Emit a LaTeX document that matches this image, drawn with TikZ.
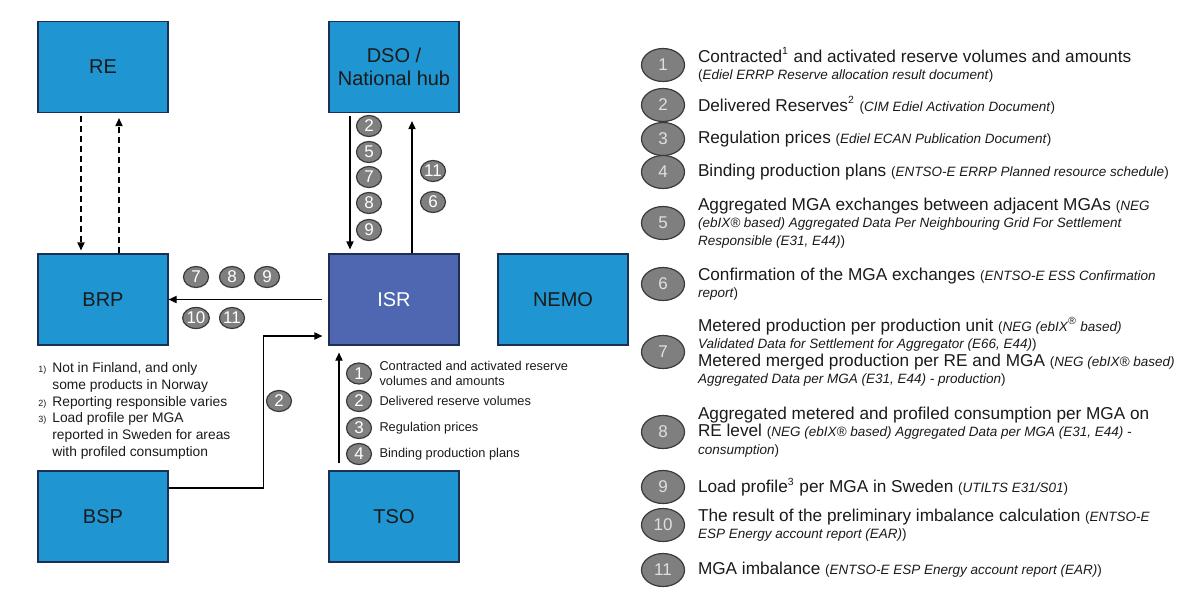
\documentclass[tikz,border=0pt]{standalone}
\usepackage{fontspec}
\setmainfont{Liberation Sans}
\usetikzlibrary{arrows.meta}
\usetikzlibrary{positioning}
\usetikzlibrary{shapes.geometric}
\usepackage{xcolor}

\definecolor{boxblue}{HTML}{1F96D2}
\definecolor{isrblue}{HTML}{4F66B0}
\definecolor{boxline}{HTML}{1C2F55}
\definecolor{numgray}{HTML}{7F7F7F}
\definecolor{numline}{HTML}{3A3A3A}
\definecolor{txt}{HTML}{1A1A1A}

\newcommand{\dsm}{\fontsize{6.75}{8.75}\selectfont}
\newcommand{\sups}[1]{\textsuperscript{\fontsize{5.2}{5.2}\selectfont #1}}

\begin{document}
\begin{tikzpicture}[x=0.5pt, y=-0.5pt,
  box/.style={draw=boxline, line width=0.6pt, fill=boxblue, minimum width=65pt, minimum height=45.5pt,
    inner sep=0pt, align=center, text=txt, font=\fontsize{10}{11.5}\selectfont},
  isrbox/.style={box, fill=isrblue, text=white},
  num/.style={ellipse, draw=numline, fill=numgray, line width=0.6pt, minimum width=12.5pt, minimum height=10.5pt,
    inner sep=0pt, text=white, font=\fontsize{8.5}{8.5}\selectfont},
  legnum/.style={ellipse, draw=numline, fill=numgray, line width=0.6pt, minimum width=21.5pt, minimum height=16.5pt,
    inner sep=0pt, text=white!88!black, font=\fontsize{8.5}{8.5}\selectfont},
  legtext/.style={align=left, inner sep=0pt, text=txt, font=\fontsize{8.6}{8.75}\selectfont},
  tsotext/.style={align=left, inner sep=0pt, text=txt, font=\fontsize{6.4}{7.5}\selectfont},
  note/.style={anchor=west, align=left, inner sep=0pt, text=txt, font=\fontsize{6.9}{8.4}\selectfont},
  notemark/.style={anchor=west, inner sep=0pt, text=txt, font=\fontsize{4.5}{5}\selectfont},
  flow/.style={line width=0.6pt, -{Triangle[length=4pt,width=3.6pt]}},
  dashflow/.style={flow, dash pattern=on 3pt off 2pt}]
\useasboundingbox (0,0) rectangle (1200,601);

% parties
\node[box] (re) at (103,67) {RE};
\node[box] (dso) at (394,67) {DSO /\\National hub};
\node[box] (brp) at (103,299.5) {BRP};
\node[isrbox] (isr) at (394,299.5) {ISR};
\node[box] (nemo) at (563,299.5) {NEMO};
\node[box] (bsp) at (103,516.5) {BSP};
\node[box] (tso) at (394,516.5) {TSO};

% flows
\draw[dashflow] ([xshift=-11pt,yshift=-1.5pt]re.south) -- ([xshift=-11pt,yshift=1.5pt]brp.north);
\draw[dashflow] ([xshift=8pt]brp.north) -- ([xshift=8pt,yshift=-2.5pt]re.south);
\draw[flow] ([xshift=-22pt,yshift=-1.5pt]dso.south) -- ([xshift=-22pt,yshift=2pt]isr.north);
\draw[flow] ([xshift=9pt]isr.north) -- ([xshift=9pt,yshift=-4pt]dso.south);
\draw[flow] ([xshift=-3pt]isr.west) -- (brp.east);
\draw[flow] ([yshift=14.25pt]bsp.east) -- ++(47.5pt,0) |- ([xshift=-3pt,yshift=-18.25pt]isr.west);
\draw[flow] ([xshift=-27.5pt,yshift=3.5pt]tso.north) -- ([xshift=-27.5pt,yshift=-3.5pt]isr.south);

% numbers on the flows
\foreach \n/\y in {2/126,5/152,7/177,8/203,9/230}
  \node[num] (dn\n) at (369,\y) {\n};
\node[num] (up11) at (433,171) {11};
\node[num] (up6) at (433,202) {6};
\foreach \n/\x in {7/196,8/232,9/267}
  \node[num] (bt\n) at (\x,277) {\n};
\foreach \n/\x in {10/196,11/232}
  \node[num] (bb\n) at (\x,318) {\n};
\node[num] (bs2) at (279,401) {2};

% TSO list
\foreach \n/\y in {1/373.5,2/401,3/428,4/454}
  \node[num] (s\n) at (359,\y) {\n};
\node[tsotext, right=3.5pt of s1] (st1) {Contracted and activated reserve\\volumes and amounts};
\node[tsotext, right=3.5pt of s2] (st2) {Delivered reserve volumes};
\node[tsotext, right=3.5pt of s3] (st3) {Regulation prices};
\node[tsotext, right=3.5pt of s4] (st4) {Binding production plans};

% notes
\node[notemark] (m1) at (38,370) {1)};
\node[note] (n1) at (52,377.5) {Not in Finland, and only\\some products in Norway};
\node[notemark] (m2) at (38,404) {2)};
\node[note] (n2) at (52,403) {Reporting responsible varies};
\node[notemark] (m3) at (38,420) {3)};
\node[note] (n3) at (52,436) {Load profile per MGA\\reported in Sweden for areas\\with profiled consumption};

% legend
\foreach \n/\y in {1/65,2/105,3/139,4/172,5/223,6/284,7/352,8/432,9/487,10/525,11/570}
  \node[legnum] (l\n) at (663,\y) {\n};
\node[legtext, right=6.25pt of l1] (t1) {Contracted\sups{1} and activated reserve volumes and amounts\\
  {\dsm(\textit{Ediel ERRP Reserve allocation result document})}};
\node[legtext, right=6.25pt of l2] (t2) {Delivered Reserves\sups{2} {\dsm(\textit{CIM Ediel Activation Document})}};
\node[legtext, right=6.25pt of l3] (t3) {Regulation prices {\dsm(\textit{Ediel ECAN Publication Document})}};
\node[legtext, right=6.25pt of l4] (t4) {Binding production plans {\dsm(\textit{ENTSO-E ERRP Planned resource schedule})}};
\node[legtext, right=6.25pt of l5] (t5) {Aggregated MGA exchanges between adjacent MGAs {\dsm(\textit{NEG}}\\
  {\dsm\itshape (ebIX® based) Aggregated Data Per Neighbouring Grid For Settlement}\\
  {\dsm\textit{Responsible (E31, E44)})}};
\node[legtext, right=6.25pt of l6] (t6) {Confirmation of the MGA exchanges {\dsm(\textit{ENTSO-E ESS Confirmation}}\\
  {\dsm\textit{report})}};
\node[legtext, right=6.25pt of l7] (t7) {Metered production per production unit {\dsm(\textit{NEG (ebIX\sups{®} based)}}\\
  {\dsm\textit{Validated Data for Settlement for Aggregator (E66, E44)})}\\
  Metered merged production per RE and MGA {\dsm(\textit{NEG (ebIX® based)}}\\
  {\dsm\textit{Aggregated Data per MGA (E31, E44) - production})}};
\node[legtext, right=6.25pt of l8] (t8) {Aggregated metered and profiled consumption per MGA on\\
  RE level {\dsm(\textit{NEG (ebIX® based) Aggregated Data per MGA (E31, E44) -}}\\
  {\dsm\textit{consumption})}};
\node[legtext, right=6.25pt of l9] (t9) {Load profile\sups{3} per MGA in Sweden {\dsm(\textit{UTILTS E31/S01})}};
\node[legtext, right=6.25pt of l10] (t10) {The result of the preliminary imbalance calculation {\dsm(\textit{ENTSO-E}}\\
  {\dsm\textit{ESP Energy account report (EAR)})}};
\node[legtext, right=6.25pt of l11] (t11) {MGA imbalance {\dsm(\textit{ENTSO-E ESP Energy account report (EAR)})}};
\end{tikzpicture}
\end{document}
